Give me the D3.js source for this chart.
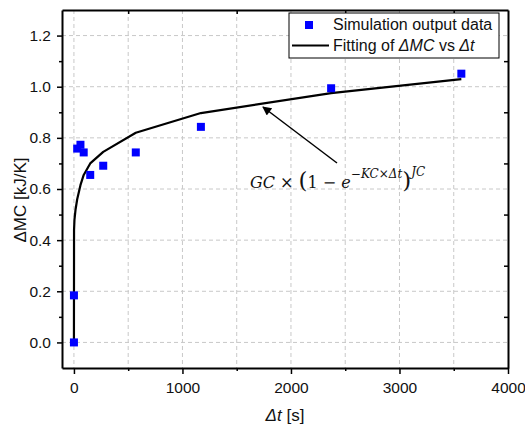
<!DOCTYPE html>
<html>
<head>
<meta charset="utf-8">
<script src="https://cdn.jsdelivr.net/npm/d3@7"></script>
<style>
  body { margin: 0; background: #fff; }
  svg text { font-family: "Liberation Sans", Arial, sans-serif; fill: #111; }
</style>
</head>
<body>
<div id="chart"></div>
<script>
// simulation output (time in s, dMC in kJ/K)
var simTime = [0, 0, 30, 60, 90, 150, 270, 570, 1170, 2370, 3570];
var simMC = [0, 0.184, 0.758, 0.773, 0.743, 0.655, 0.691, 0.743, 0.843, 0.994, 1.051];

// fitted curve
var fitTime = [0, 1, 5, 15, 30, 60, 90, 150, 270, 570, 1170, 2370, 3570];
var fitMC = [0, 0.44, 0.48, 0.52, 0.56, 0.615, 0.655, 0.70, 0.745, 0.82, 0.897, 0.975, 1.03];

var xTicks = [0, 1000, 2000, 3000, 4000];
var xMinor = [500, 1500, 2500, 3500];
var xGrid = [0, 500, 1000, 1500, 2000, 2500, 3000, 3500];
var yTicks = [0, 0.2, 0.4, 0.6, 0.8, 1.0, 1.2];
var yMinor = [0.1, 0.3, 0.5, 0.7, 0.9, 1.1];

var width = 525;
var height = 424;
var pLeft = 62, pRight = 508, pTop = 10, pBottom = 368;

var svg = d3.select("#chart")
    .append("svg")
    .attr("width", width)
    .attr("height", height);

var x = d3.scaleLinear().domain([-110, 4000]).range([pLeft, pRight]);
var y = d3.scaleLinear().domain([-0.1, 1.3]).range([pBottom, pTop]);

// dashed grid
svg.append("g").selectAll("line")
    .data(xGrid)
    .enter()
    .append("line")
    .attr("x1", function (d) { return x(d); })
    .attr("x2", function (d) { return x(d); })
    .attr("y1", pTop)
    .attr("y2", pBottom)
    .style("stroke", "#c8c8c8")
    .style("stroke-dasharray", "4,3");

svg.append("g").selectAll("line")
    .data(yTicks)
    .enter()
    .append("line")
    .attr("x1", pLeft)
    .attr("x2", pRight)
    .attr("y1", function (d) { return y(d); })
    .attr("y2", function (d) { return y(d); })
    .style("stroke", "#c8c8c8")
    .style("stroke-dasharray", "4,3");

// axes
svg.append("g")
    .attr("transform", "translate(0," + pBottom + ")")
    .call(d3.axisBottom(x).tickValues(xTicks).tickSize(6).tickSizeOuter(0).tickPadding(8).tickFormat(d3.format("d")));
svg.append("g")
    .attr("transform", "translate(0," + pBottom + ")")
    .call(d3.axisBottom(x).tickValues(xMinor).tickSize(3).tickFormat(""))
    .select(".domain").remove();

svg.append("g")
    .attr("transform", "translate(" + pLeft + ",0)")
    .call(d3.axisLeft(y).tickValues(yTicks).tickSize(5).tickSizeOuter(0).tickPadding(6).tickFormat(d3.format(".1f")));
svg.append("g")
    .attr("transform", "translate(" + pLeft + ",0)")
    .call(d3.axisLeft(y).tickValues(yMinor).tickSize(3).tickFormat(""))
    .select(".domain").remove();

svg.append("g")
    .attr("transform", "translate(0," + pTop + ")")
    .call(d3.axisTop(x).tickValues(xMinor).tickSize(-4).tickSizeOuter(0).tickFormat(""));

svg.append("g")
    .attr("transform", "translate(" + pRight + ",0)")
    .call(d3.axisRight(y).tickValues(yMinor).tickSize(-4).tickSizeOuter(0).tickFormat(""));

svg.selectAll(".domain").style("stroke", "#000").style("stroke-width", 2);
svg.selectAll(".tick line").style("stroke", "#000").style("stroke-width", 1.5);
svg.selectAll(".tick text").style("font-size", "15.5px").style("fill", "#111");

// axis titles
svg.append("text")
    .attr("transform", "translate(26,200) rotate(-90)")
    .attr("text-anchor", "middle")
    .style("font-size", "17px")
    .text("\u0394MC [kJ/K]");

var xTitle = svg.append("text")
    .attr("x", (pLeft + pRight) / 2)
    .attr("y", 421)
    .attr("text-anchor", "middle")
    .style("font-size", "17px");
xTitle.append("tspan").style("font-style", "italic").text("\u0394t");
xTitle.append("tspan").text(" [s]");

// fitted line
var line = d3.line()
    .x(function (d) { return x(d[0]); })
    .y(function (d) { return y(d[1]); });

svg.append("path")
    .datum(d3.zip(fitTime, fitMC))
    .attr("d", line)
    .style("fill", "none")
    .style("stroke", "#000")
    .style("stroke-width", 2.2)
    .style("stroke-linejoin", "round");

// simulation points
svg.selectAll("rect.pt")
    .data(d3.zip(simTime, simMC))
    .enter()
    .append("rect")
    .attr("class", "pt")
    .attr("x", function (d) { return x(d[0]) - 4; })
    .attr("y", function (d) { return y(d[1]) - 4; })
    .attr("width", 8)
    .attr("height", 8)
    .style("fill", "#0000ff");

// arrow + formula
svg.append("defs").append("marker")
    .attr("id", "head")
    .attr("viewBox", "0 0 10 10")
    .attr("refX", 9)
    .attr("refY", 5)
    .attr("markerWidth", 11)
    .attr("markerHeight", 9)
    .attr("markerUnits", "userSpaceOnUse")
    .attr("orient", "auto")
    .append("path")
    .attr("d", "M0,0 L10,5 L0,10 z")
    .style("fill", "#000");

svg.append("line")
    .attr("x1", 337).attr("y1", 163)
    .attr("x2", 263).attr("y2", 107)
    .style("stroke", "#000")
    .style("stroke-width", 1.5)
    .attr("marker-end", "url(#head)");

var formula = svg.append("text")
    .attr("x", 250)
    .attr("y", 188)
    .style("font-family", "'DejaVu Serif', 'Liberation Serif', serif")
    .style("font-size", "16px");
formula.append("tspan").style("font-style", "italic").text("GC");
formula.append("tspan").text(" \u00d7 ");
formula.append("tspan").style("font-size", "23px").text("(");
formula.append("tspan").text("1 \u2212 ");
formula.append("tspan").style("font-style", "italic").text("e");
formula.append("tspan").attr("dy", -10).style("font-size", "12px").style("font-style", "italic").text("\u2212KC\u00d7\u0394t");
formula.append("tspan").attr("dy", 10).style("font-size", "23px").text(")");
formula.append("tspan").attr("dy", -12).style("font-size", "12px").style("font-style", "italic").text("JC");

// legend
var legend = svg.append("g");
legend.append("rect")
    .attr("x", 289).attr("y", 13)
    .attr("width", 210).attr("height", 45)
    .style("fill", "#fff")
    .style("stroke", "#000")
    .style("stroke-width", 1);
legend.append("rect")
    .attr("x", 305).attr("y", 21)
    .attr("width", 8).attr("height", 8)
    .style("fill", "#0000ff");
legend.append("text")
    .attr("x", 333).attr("y", 30)
    .style("font-size", "16px")
    .text("Simulation output data");
legend.append("line")
    .attr("x1", 292).attr("x2", 329)
    .attr("y1", 45.5).attr("y2", 45.5)
    .style("stroke", "#000")
    .style("stroke-width", 2);
var lt = legend.append("text")
    .attr("x", 333).attr("y", 51)
    .style("font-size", "16px");
lt.append("tspan").text("Fitting of ");
lt.append("tspan").style("font-style", "italic").text("\u0394MC");
lt.append("tspan").text(" vs ");
lt.append("tspan").style("font-style", "italic").text("\u0394t");
</script>
</body>
</html>
